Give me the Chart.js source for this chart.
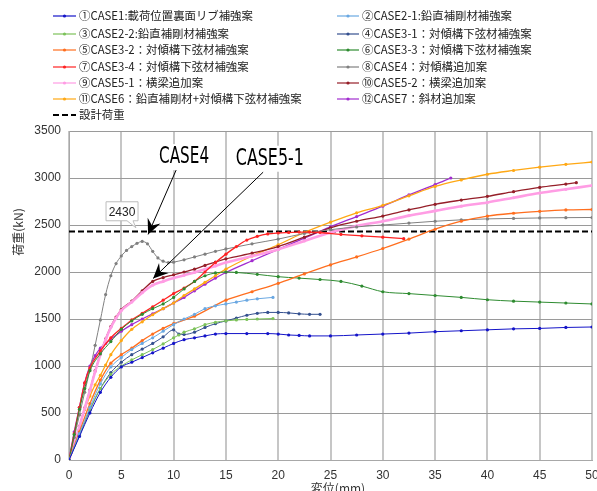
<!DOCTYPE html>
<html>
<head>
<meta charset="utf-8">
<script src="https://cdn.jsdelivr.net/npm/chart.js@4"></script>
<style>
html, body { margin: 0; padding: 0; background: #fff; overflow: hidden; }
canvas { display: block; }
</style>
</head>
<body>
<canvas id="myChart" width="597" height="491"></canvas>
<script>
// displacement (mm) / load (kN)
let case1X = [0,1,2,3,4,5,6,7,8,9,10,11,12,13,14,15,17,19,20,21,22,23,25,27.5,30,32.5,35,37.5,40,42.5,45,47.5,50];
let case1Y = [0,250,500,720,880,990,1040,1090,1140,1190,1240,1280,1300,1320,1340,1345,1345,1345,1340,1330,1325,1320,1320,1330,1340,1350,1365,1375,1385,1395,1400,1410,1415];

let case21X = [0,1,2,3,4,5,6,7,8,9,10,11,12,13,14,15,16,17,18,19.5];
let case21Y = [0,280,560,810,990,1090,1175,1240,1300,1370,1440,1500,1550,1610,1640,1660,1680,1700,1715,1730];

let case22X = [0,1,2,3,4,5,6,7,8,9,10,10.5,11,12,13,14,15,16,17,18,19.5];
let case22Y = [0,270,540,760,910,1000,1065,1120,1175,1235,1300,1330,1360,1395,1440,1465,1480,1490,1495,1500,1505];

let case31X = [0,1,2,3,4,5,6,7,8,9,10,10.5,11,12,13,14,15,16,17,18,19,20,21,22,23,24];
let case31Y = [0,260,530,760,930,1040,1120,1180,1240,1310,1385,1340,1335,1360,1410,1450,1480,1510,1540,1560,1570,1570,1565,1555,1550,1550];

let case32X = [0,1,2,3,4,5,6,7,8,9,10,12,15,17.5,20,22.5,25,27.5,30,32.5,35,37.5,40,42.5,45,47.5,50];
let case32Y = [0,300,600,850,1030,1120,1190,1270,1340,1400,1450,1530,1700,1790,1880,1980,2075,2160,2250,2350,2455,2540,2595,2625,2645,2660,2665];

let case33X = [0,0.5,1,1.5,2,3,4,5,6,7,8,9,10,11,12,13,14,15,16,18,20,22,24,26,28,30,32.5,35,37.5,40,42.5,45,47.5,50];
let case33Y = [0,270,540,760,950,1130,1260,1390,1480,1550,1610,1660,1730,1820,1900,1960,1990,2000,1995,1975,1950,1935,1920,1900,1850,1790,1770,1750,1730,1705,1690,1680,1670,1660];

let case34X = [0,0.5,1,1.5,2,3,4,5,6,7,8,9,10,11,12,13,14,15,16,17,18,19,20,21,22,23,24,26,28,30,32];
let case34Y = [0,280,560,820,980,1160,1300,1400,1490,1560,1630,1700,1770,1830,1900,2000,2100,2190,2270,2340,2380,2405,2415,2420,2425,2425,2420,2400,2385,2370,2355];

let case4X = [0,0.5,1,1.5,2,2.5,3,3.5,4,4.5,5,5.5,6,6.5,7,7.5,8,8.5,9,9.5,10,11,12,13,14,15,17.5,20,22.5,25,27.5,30,32.5,35,37.5,40,42.5,45,47.5,50];
let case4Y = [0,240,480,720,960,1220,1490,1760,1960,2090,2170,2230,2270,2305,2325,2300,2220,2150,2115,2100,2105,2130,2160,2190,2220,2245,2300,2350,2410,2450,2480,2500,2520,2540,2555,2565,2570,2575,2578,2580];

let case51X = [0,0.5,1,1.5,2,2.5,3,3.5,4,4.5,5,6,7,8,9,10,11,12,13,14,15,17.5,20,22.5,25,27.5,30,32.5,35,37.5,40,42.5,45,47.5,50];
let case51Y = [0,170,355,550,740,940,1120,1280,1410,1510,1590,1680,1780,1860,1900,1935,1965,1995,2030,2065,2100,2170,2240,2330,2420,2490,2540,2600,2650,2700,2740,2790,2840,2880,2920];

let case52X = [0,0.5,1,1.5,2,2.5,3,3.5,4,4.5,5,6,7,8,9,10,11,12,13,14,15,17.5,20,22.5,25,27.5,30,32.5,35,37.5,40,42.5,45,47.5,48.5];
let case52Y = [0,170,360,555,745,950,1130,1290,1420,1520,1600,1690,1800,1900,1940,1970,2000,2030,2070,2105,2140,2200,2270,2370,2470,2540,2595,2660,2720,2765,2805,2855,2900,2935,2950];

let case6X = [0,0.5,1,1.5,2,2.5,3,3.5,4,5,6,7,8,9,10,11,12,13,14,15,17.5,20,22.5,25,27.5,30,32.5,35,37.5,40,42.5,45,47.5,50];
let case6Y = [0,170,350,535,680,800,900,1010,1120,1270,1390,1470,1545,1610,1670,1750,1820,1890,1960,2030,2170,2290,2420,2530,2630,2710,2810,2910,2980,3040,3080,3115,3145,3170];

let case7X = [0,0.5,1,1.5,2,2.5,3,3.5,4,5,6,7,8,9,10,11,12,13,14,15,17.5,20,22.5,25,27.5,30,32.5,35,36.5];
let case7Y = [0,300,560,820,1000,1110,1190,1240,1285,1370,1440,1500,1555,1610,1670,1730,1800,1870,1935,1995,2120,2240,2360,2480,2590,2700,2820,2930,3000];

let designX = [0, 50];
let designY = [2430, 2430];

let caseLabels = [
    '①CASE1:載荷位置裏面リブ補強案',
    '②CASE2-1:鉛直補剛材補強案',
    '③CASE2-2:鉛直補剛材補強案',
    '④CASE3-1：対傾構下弦材補強案',
    '⑤CASE3-2：対傾構下弦材補強案',
    '⑥CASE3-3：対傾構下弦材補強案',
    '⑦CASE3-4：対傾構下弦材補強案',
    '⑧CASE4：対傾構追加案',
    '⑨CASE5-1：横梁追加案',
    '⑩CASE5-2：横梁追加案',
    '⑪CASE6：鉛直補剛材+対傾構下弦材補強案',
    '⑫CASE7：斜材追加案'
];
let designLabel = '設計荷重';
let xTicks = [0,5,10,15,20,25,30,35,40,45,50];
let yTicks = [0,500,1000,1500,2000,2500,3000,3500];

let caseColors = ['#1414c8','#6aa8e2','#7cc25a','#34508f','#ff6e1e','#2e8b30','#ff2222','#808080','#ff9de4','#951e28','#ffa814','#a22ccf'];
let caseWidths = [1,1,1,1,1.3,1,1.3,1,2.6,1.3,1.3,1.3];

let allX = [case1X,case21X,case22X,case31X,case32X,case33X,case34X,case4X,case51X,case52X,case6X,case7X];
let allY = [case1Y,case21Y,case22Y,case31Y,case32Y,case33Y,case34Y,case4Y,case51Y,case52Y,case6Y,case7Y];

let pts = (xs, ys) => xs.map((x, i) => ({ x: x, y: ys[i] }));

let datasets = caseLabels.map((lab, i) => ({
    label: lab,
    data: pts(allX[i], allY[i]),
    borderColor: caseColors[i],
    backgroundColor: caseColors[i],
    borderWidth: caseWidths[i],
    pointRadius: 1.6,
    pointBorderWidth: 0,
    cubicInterpolationMode: 'monotone'
}));
datasets.push({
    label: designLabel,
    data: pts(designX, designY),
    borderColor: '#000',
    backgroundColor: '#000',
    borderWidth: 2,
    borderDash: [6, 3],
    pointRadius: 0
});

// annotation placement in data units
let note2430 = { text: '2430', x: 5.07, y: 2646, tipX: 6.4, tipY: 2470 };
let noteCase4 = { text: 'CASE4', x: 11.0, y: 3222, w: 50, fromX: 10.24, fromY: 3084, toX: 7.56, toY: 2400 };
let noteCase51 = { text: 'CASE5-1', x: 19.2, y: 3205, w: 68, fromX: 18.56, fromY: 3062, toX: 8.04, toY: 1931 };

let drawArrow = (ctx, x0, y0, x1, y1) => {
    ctx.beginPath();
    ctx.moveTo(x0, y0);
    ctx.lineTo(x1, y1);
    ctx.strokeStyle = '#000';
    ctx.lineWidth = 1;
    ctx.stroke();
    let a = Math.atan2(y1 - y0, x1 - x0);
    let len = 15, wid = 7;
    let bx = x1 - len * Math.cos(a), by = y1 - len * Math.sin(a);
    let nx = x1 - len * 0.65 * Math.cos(a), ny = y1 - len * 0.65 * Math.sin(a);
    ctx.beginPath();
    ctx.moveTo(x1, y1);
    ctx.lineTo(bx + wid * Math.sin(a), by - wid * Math.cos(a));
    ctx.lineTo(nx, ny);
    ctx.lineTo(bx - wid * Math.sin(a), by + wid * Math.cos(a));
    ctx.closePath();
    ctx.fillStyle = '#000';
    ctx.fill();
};

let drawNarrow = (ctx, text, cx, cy, w) => {
    ctx.save();
    ctx.font = '23px "Liberation Sans Narrow", "DejaVu Sans Condensed", sans-serif';
    let m = ctx.measureText(text).width;
    ctx.translate(cx, cy);
    ctx.scale(w / m, 1);
    ctx.textAlign = 'center';
    ctx.textBaseline = 'middle';
    ctx.fillStyle = '#000';
    ctx.fillText(text, 0, 0);
    ctx.restore();
};

let extras = {
    id: 'extras',
    afterDraw(chart) {
        let ctx = chart.ctx;
        let sx = chart.scales.x, sy = chart.scales.y;
        let px = v => sx.getPixelForValue(v);
        let py = v => sy.getPixelForValue(v);
        ctx.save();

        // legend in two columns
        let rows = [16, 34, 50, 67, 83, 99, 115];
        let cols = [[53, 76, 79], [337, 359, 362]];
        ctx.font = '11.4px "Noto Sans CJK JP", sans-serif';
        ctx.textBaseline = 'middle';
        ctx.textAlign = 'left';
        chart.data.datasets.forEach((ds, i) => {
            let c = (i < 12) ? cols[i % 2] : cols[0];
            let y = (i < 12) ? rows[Math.floor(i / 2)] : rows[6];
            ctx.beginPath();
            ctx.moveTo(c[0], y);
            ctx.lineTo(c[1], y);
            ctx.strokeStyle = ds.borderColor;
            ctx.lineWidth = (i < 12) ? 1.2 : 2;
            ctx.setLineDash(ds.borderDash || []);
            ctx.stroke();
            ctx.setLineDash([]);
            if (i < 12) {
                ctx.beginPath();
                ctx.arc((c[0] + c[1]) / 2, y, 1.6, 0, Math.PI * 2);
                ctx.fillStyle = ds.borderColor;
                ctx.fill();
            }
            ctx.fillStyle = '#222';
            ctx.fillText(ds.label, c[2], y);
        });

        // axis titles
        ctx.fillStyle = '#333';
        ctx.font = '12px "Noto Sans CJK JP", sans-serif';
        ctx.save();
        ctx.translate(18, 232);
        ctx.rotate(-Math.PI / 2);
        ctx.textAlign = 'center';
        ctx.textBaseline = 'middle';
        ctx.fillText('荷重(kN)', 0, 0);
        ctx.restore();
        ctx.textAlign = 'center';
        ctx.textBaseline = 'top';
        ctx.fillText('変位(mm)', 338, 482);

        // 2430 callout
        let bx = px(note2430.x), by = py(note2430.y);
        let bw = 32, bh = 19;
        ctx.beginPath();
        ctx.moveTo(bx - bw / 2, by - bh / 2);
        ctx.lineTo(bx + bw / 2, by - bh / 2);
        ctx.lineTo(bx + bw / 2, by + bh / 2);
        ctx.lineTo(bx + 11, by + bh / 2);
        ctx.lineTo(px(note2430.tipX), py(note2430.tipY));
        ctx.lineTo(bx + 5, by + bh / 2);
        ctx.lineTo(bx - bw / 2, by + bh / 2);
        ctx.closePath();
        ctx.fillStyle = '#fff';
        ctx.fill();
        ctx.strokeStyle = '#bdbdbd';
        ctx.lineWidth = 1;
        ctx.stroke();
        ctx.fillStyle = '#222';
        ctx.font = '12px "Liberation Sans", sans-serif';
        ctx.textAlign = 'center';
        ctx.textBaseline = 'middle';
        ctx.fillText(note2430.text, bx, by + 1);

        // case labels with arrows
        [noteCase4, noteCase51].forEach(n => {
            let tw = n.w + 8;
            ctx.fillStyle = '#fff';
            ctx.fillRect(px(n.x) - tw / 2, py(n.y) - 13, tw, 26);
            drawNarrow(ctx, n.text, px(n.x), py(n.y), n.w);
            drawArrow(ctx, px(n.fromX), py(n.fromY), px(n.toX), py(n.toY));
        });

        ctx.restore();
    }
};

let ctx = document.getElementById('myChart').getContext('2d');
let chart = new Chart(ctx, {
    type: 'line',
    data: { datasets: datasets },
    options: {
        responsive: false,
        animation: false,
        devicePixelRatio: 1,
        layout: { padding: { top: 131, left: 0, right: 0, bottom: 0 } },
        plugins: { legend: { display: false }, tooltip: { enabled: false } },
        scales: {
            x: {
                type: 'linear',
                min: 0,
                max: 50,
                afterBuildTicks: s => { s.ticks = xTicks.map(v => ({ value: v })); },
                afterFit: s => { s.height = 31; s.paddingRight = 5; },
                grid: { color: '#c6c6c6', lineWidth: 2, drawTicks: false },
                border: { color: '#a8a8a8', width: 1 },
                ticks: { color: '#333', padding: 8, maxRotation: 0, callback: v => String(v), font: { family: 'Liberation Sans', size: 12 } }
            },
            y: {
                min: 0,
                max: 3500,
                afterBuildTicks: s => { s.ticks = yTicks.map(v => ({ value: v })); },
                afterFit: s => { s.width = 69; },
                grid: { color: '#9a9a9a', lineWidth: 1, drawTicks: false },
                border: { color: '#a8a8a8', width: 1 },
                ticks: { color: '#333', padding: 8, callback: v => String(v), font: { family: 'Liberation Sans', size: 12 } }
            }
        }
    },
    plugins: [extras]
});
</script>
</body>
</html>
